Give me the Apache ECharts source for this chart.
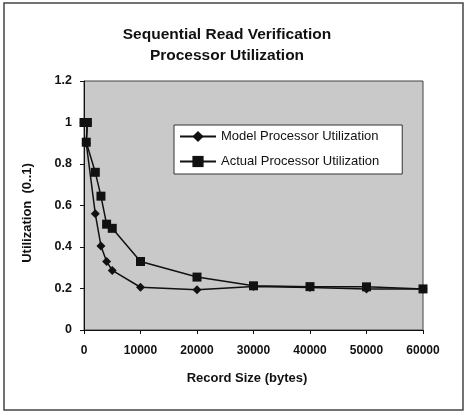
<!DOCTYPE html>
<html>
<head>
<meta charset="utf-8">
<script src="https://cdn.jsdelivr.net/npm/echarts@6/dist/echarts.min.js"></script>
<style>
html,body{margin:0;padding:0;background:#fff;}
#c{width:466px;height:412px;}
</style>
</head>
<body>
<div id="c"></div>
<script>
// Data
const recordSizes = [0, 600, 400, 2000, 3000, 4000, 5000, 10000, 20000, 30000, 40000, 50000, 60000];
const modelUtil   = [1.0, 1.0, 0.9, 0.56, 0.405, 0.33, 0.287, 0.206, 0.194, 0.21, 0.205, 0.198, 0.198];
const actualUtil  = [1.0, 1.0, 0.905, 0.76, 0.645, 0.51, 0.49, 0.33, 0.255, 0.213, 0.209, 0.208, 0.198];
const xTicks = [0, 10000, 20000, 30000, 40000, 50000, 60000];
const yTicks = [0, 0.2, 0.4, 0.6, 0.8, 1, 1.2];

const font = '"Liberation Sans", Arial, Helvetica, sans-serif';
const chart = echarts.init(document.getElementById('c'));

function pairs(xs, ys) { return xs.map((x, i) => [x, ys[i]]); }

chart.setOption({
  animation: false,
  backgroundColor: '#ffffff',
  title: {
    text: 'Sequential Read Verification\nProcessor Utilization',
    left: 227,
    top: 24,
    padding: 0,
    textAlign: 'center',
    textStyle: { fontFamily: font, fontSize: 15.5, fontWeight: 'bold', color: '#111', lineHeight: 21 }
  },
  graphic: [{
    type: 'rect',
    shape: { x: 4, y: 3, width: 459, height: 407 },
    style: { fill: 'none', stroke: '#444', lineWidth: 1.5 },
    silent: true
  }],
  legend: {
    orient: 'vertical',
    left: 174,
    top: 125,
    padding: [5, 23, 6, 5],
    itemWidth: 36,
    itemHeight: 14,
    itemGap: 12,
    backgroundColor: '#ffffff',
    borderColor: '#333',
    borderWidth: 1,
    borderRadius: 0,
    textStyle: { fontFamily: font, fontSize: 13, color: '#111' },
    data: ['Model Processor Utilization', 'Actual Processor Utilization']
  },
  grid: {
    left: 84, right: 43, top: 81, bottom: 82,
    show: true,
    backgroundColor: '#c9c9c9',
    borderColor: '#444',
    borderWidth: 1
  },
  xAxis: {
    type: 'value',
    min: xTicks[0],
    max: xTicks[xTicks.length - 1],
    interval: xTicks[1] - xTicks[0],
    name: 'Record Size (bytes)',
    nameLocation: 'middle',
    nameGap: 42,
    nameTextStyle: { fontFamily: font, fontSize: 13, fontWeight: 'bold', color: '#111', padding: [0, 13, 0, 0] },
    axisLine: { lineStyle: { color: '#111', width: 1 } },
    axisTick: { inside: false, length: 4, lineStyle: { color: '#111' } },
    axisLabel: { fontFamily: font, fontSize: 12, fontWeight: 'bold', color: '#111', margin: 15,
      formatter: v => String(v) },
    splitLine: { show: false }
  },
  yAxis: {
    type: 'value',
    min: yTicks[0],
    max: yTicks[yTicks.length - 1],
    interval: 0.2,
    name: 'Utilization  (0..1)',
    nameLocation: 'middle',
    nameRotate: 90,
    nameGap: 50,
    nameTextStyle: { fontFamily: font, fontSize: 13, fontWeight: 'bold', color: '#111', padding: [0, 15, 0, 0] },
    axisLine: { show: true, lineStyle: { color: '#111', width: 1 } },
    axisTick: { show: true, inside: false, length: 4, lineStyle: { color: '#111' } },
    axisLabel: { fontFamily: font, fontSize: 12.5, fontWeight: 'bold', color: '#111', margin: 12,
      formatter: v => String(Math.round(v * 10) / 10) },
    splitLine: { show: false }
  },
  series: [
    {
      name: 'Model Processor Utilization',
      type: 'line',
      data: pairs(recordSizes, modelUtil),
      symbol: 'diamond',
      symbolSize: 9,
      showAllSymbol: true,
      lineStyle: { color: '#111', width: 1.5 },
      itemStyle: { color: '#111' },
      z: 3
    },
    {
      name: 'Actual Processor Utilization',
      type: 'line',
      data: pairs(recordSizes, actualUtil),
      symbol: 'rect',
      symbolSize: 9,
      showAllSymbol: true,
      lineStyle: { color: '#111', width: 1.5 },
      itemStyle: { color: '#111' },
      z: 4
    }
  ]
});
</script>
</body>
</html>
